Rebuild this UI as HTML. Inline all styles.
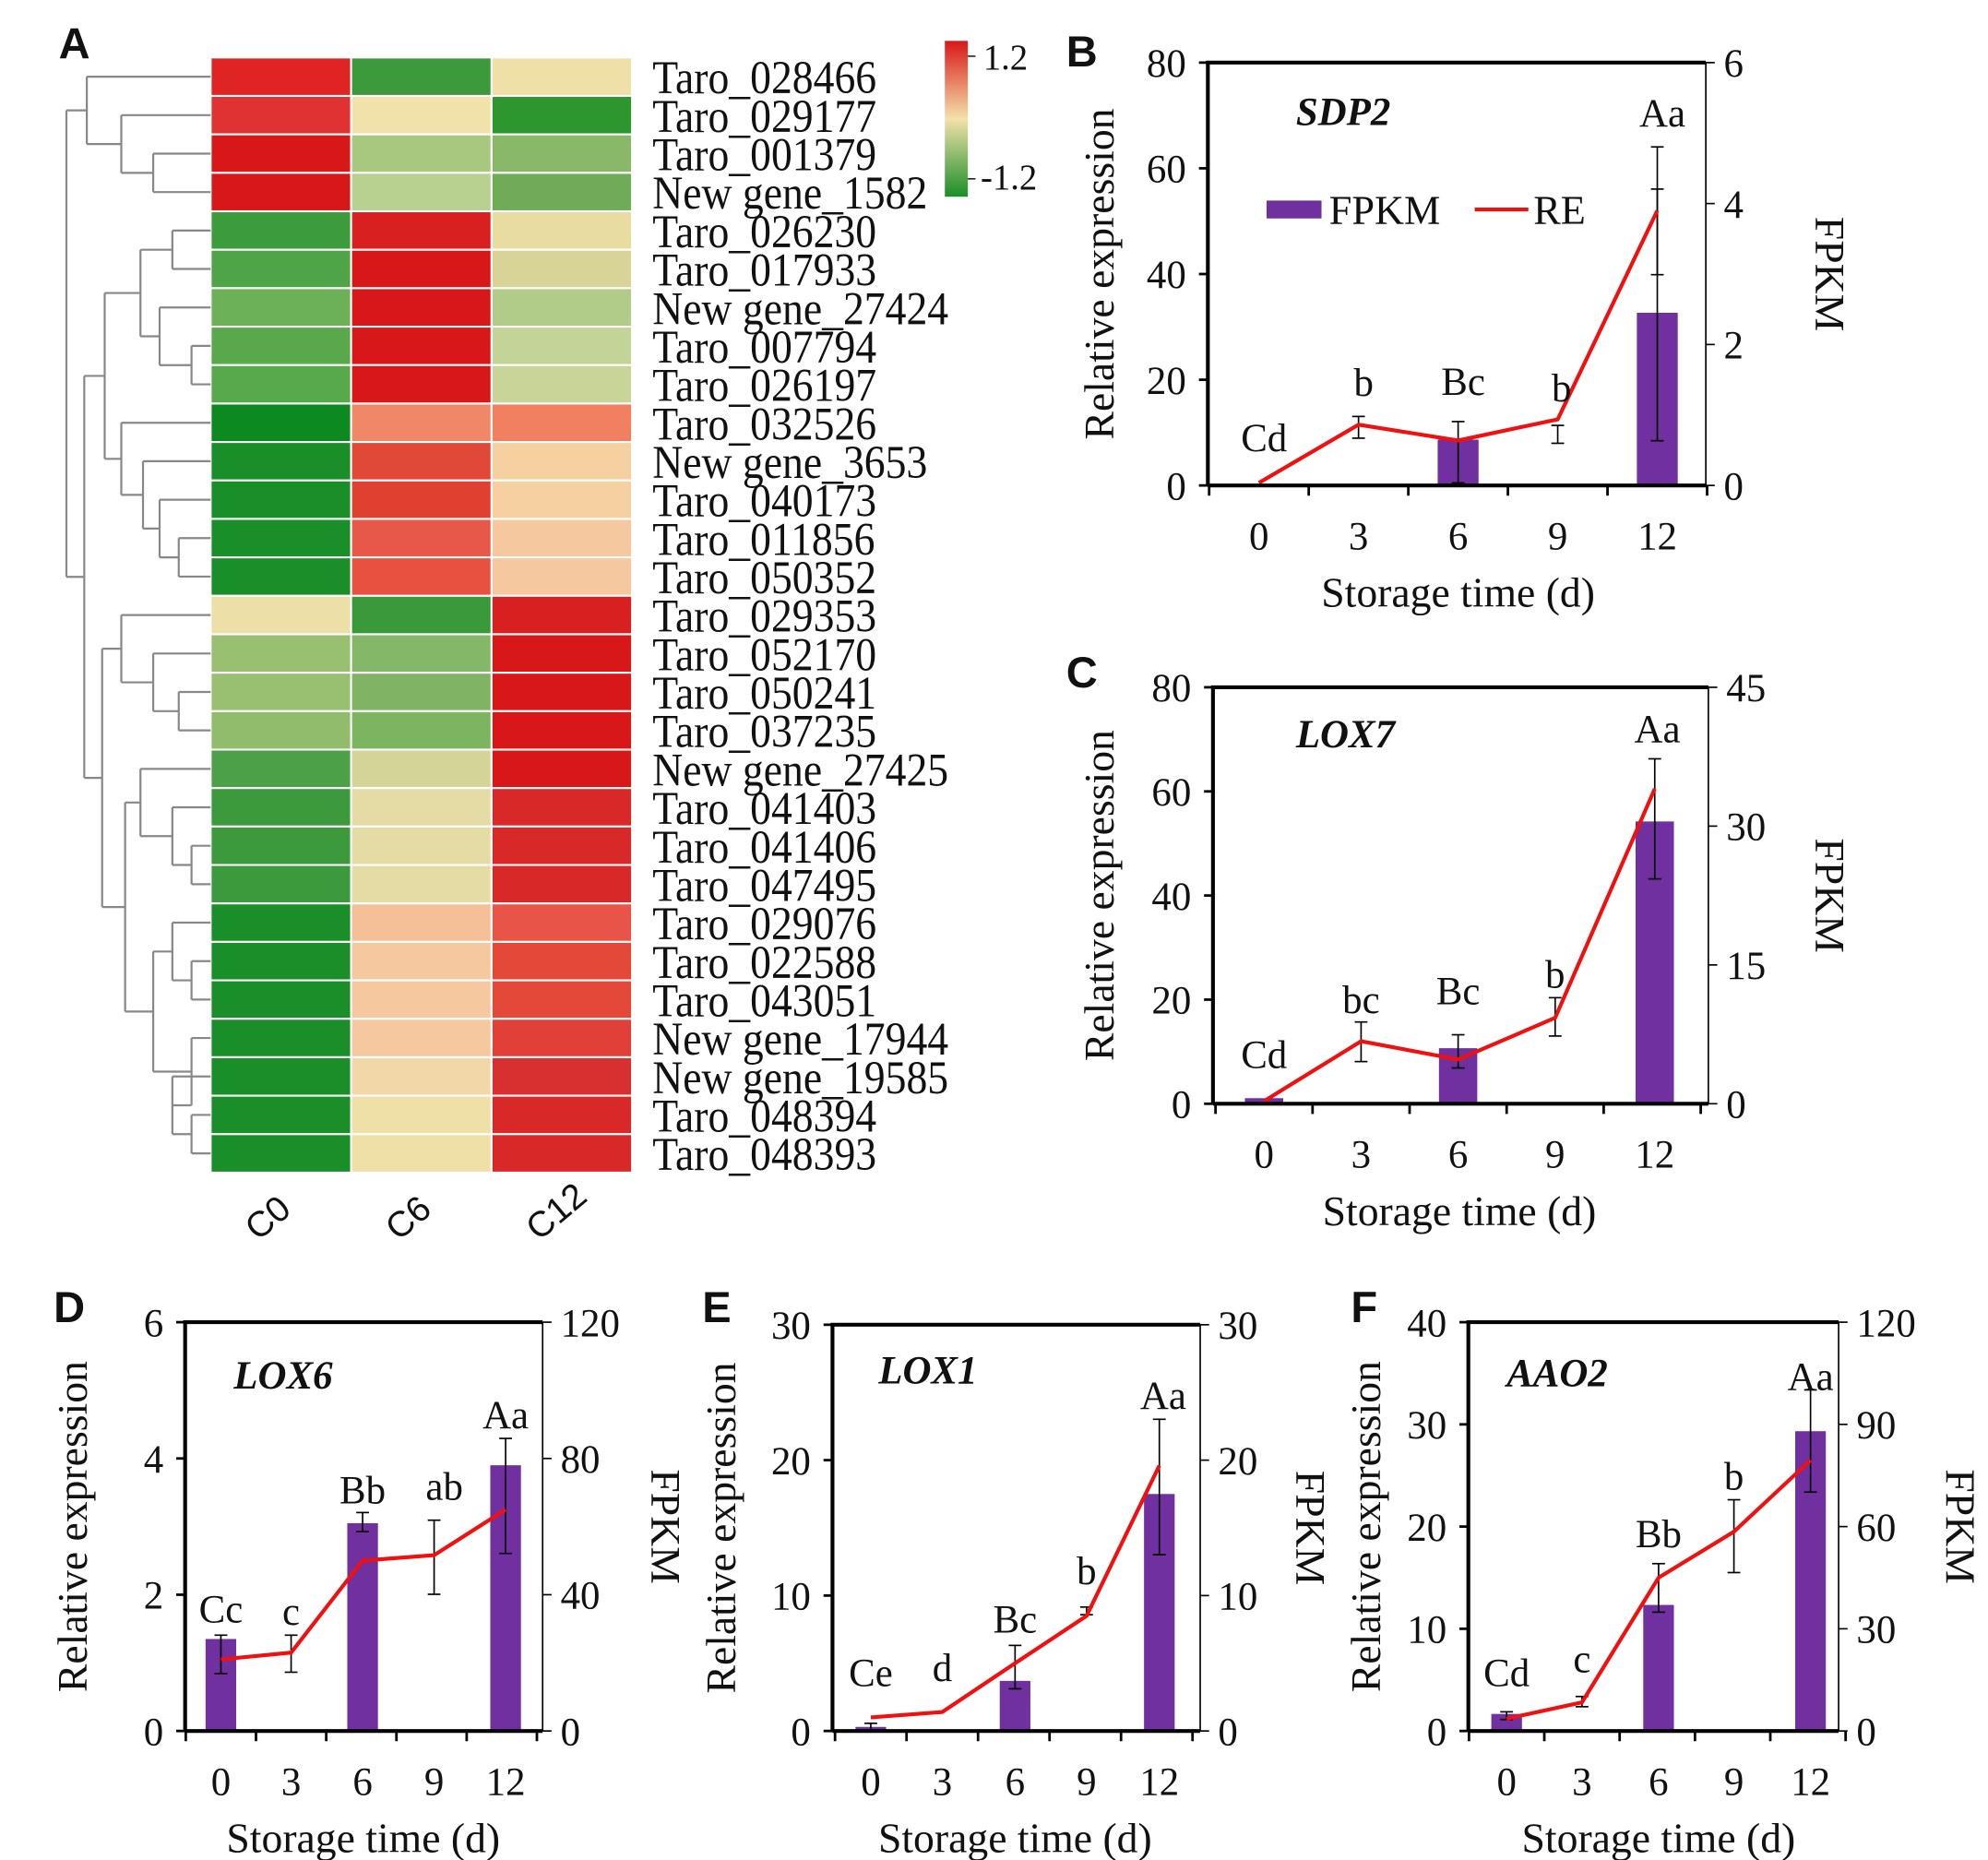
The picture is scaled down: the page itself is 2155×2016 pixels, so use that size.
<!DOCTYPE html>
<html><head><meta charset="utf-8"><style>
html,body{margin:0;padding:0;background:#fff}
svg{display:block}
text{font-family:"Liberation Serif",serif;fill:#111}
.pl{font-family:"Liberation Sans",sans-serif;font-weight:bold;font-size:34px}
</style></head><body>
<svg id="s" width="2155" height="2016" viewBox="0 0 1557 1456" preserveAspectRatio="none" xmlns="http://www.w3.org/2000/svg"></svg>
<script>
(function(){
const S=document.getElementById('s');let h='';
const rows=[
["Taro_028466","#e02424","#3c9a3c","#efe0a8"],
["Taro_029177","#e03232","#f0e2aa","#2e962e"],
["Taro_001379","#d81818","#a8c880","#88b868"],
["New gene_1582","#d81818","#b8d090","#70ac58"],
["Taro_026230","#3c9c3c","#d82020","#e8dca0"],
["Taro_017933","#50a448","#d81818","#d8d498"],
["New gene_27424","#6cb058","#d81818","#b0cc88"],
["Taro_007794","#5aa84c","#d81818","#c4d498"],
["Taro_026197","#58a84c","#d81818","#c8d498"],
["Taro_032526","#0c8a20","#f08868","#f08060"],
["New gene_3653","#1a8e28","#e04838","#f5d0a0"],
["Taro_040173","#1a8e28","#e04030","#f5d0a0"],
["Taro_011856","#1a8e28","#e85848","#f5c8a0"],
["Taro_050352","#1a8e28","#e85040","#f5c8a0"],
["Taro_029353","#ece0a8","#3a9a3a","#d82020"],
["Taro_052170","#98c070","#84b868","#d81818"],
["Taro_050241","#98c070","#80b464","#d81818"],
["Taro_037235","#90bc6c","#7cb460","#d81818"],
["New gene_27425","#4ca048","#d4d498","#d81818"],
["Taro_041403","#3c9a3c","#e4dca4","#d82828"],
["Taro_041406","#3c9a3c","#e4dca4","#d82828"],
["Taro_047495","#3c9a3c","#e4dca4","#d82828"],
["Taro_029076","#1a8e28","#f5c098","#e85448"],
["Taro_022588","#1a8e28","#f5c8a0","#e44838"],
["Taro_043051","#1a8e28","#f5c8a0","#e44838"],
["New gene_17944","#1a8e28","#f5c8a0","#e04038"],
["New gene_19585","#1a8e28","#f2d8a8","#d83030"],
["Taro_048394","#1a8e28","#efe0a8","#d82828"],
["Taro_048393","#1a8e28","#efe0a8","#d82828"]];
const rh=30.1,T0=45;
rows.forEach((r,i)=>{const y=T0+i*rh;
for(let c=0;c<3;c++)h+=`<rect x="${165+c*110}" y="${y}" width="110" height="${rh}" fill="${r[c+1]}" stroke="#fff" stroke-width="1.5"/>`;
h+=`<text transform="translate(511,${y+rh-2}) scale(1,1.12)" font-size="33">${r[0]}</text>`;});
const yc=i=>T0+i*rh+rh/2;
const G='stroke="#888" stroke-width="1.6" fill="none"';
function L(a,b,c,d){h+=`<line x1="${a}" y1="${b}" x2="${c}" y2="${d}" ${G}/>`;}
function node(x,y1,x1,y2,x2){L(x,y1,x1,y1);L(x,y2,x2,y2);L(x,y1,x,y2);}
node(120,yc(2),165,yc(3),165);node(95,yc(1),165,(yc(2)+yc(3))/2,120);node(68,yc(0),165,(yc(1)+(yc(2)+yc(3))/2)/2,95);
node(150,yc(7),165,yc(8),165);node(125,yc(6),165,(yc(7)+yc(8))/2,150);node(135,yc(4),165,yc(5),165);node(110,(yc(4)+yc(5))/2,135,(yc(6)+(yc(7)+yc(8))/2)/2,125);
node(140,yc(12),165,yc(13),165);node(125,yc(11),165,(yc(12)+yc(13))/2,140);node(112,yc(10),165,(yc(11)+(yc(12)+yc(13))/2)/2,125);node(95,yc(9),165,(yc(10)+(yc(11)+(yc(12)+yc(13))/2)/2)/2,112);
const c2=((yc(4)+yc(5))/2+(yc(6)+(yc(7)+yc(8))/2)/2)/2, c3=(yc(9)+(yc(10)+(yc(11)+(yc(12)+yc(13))/2)/2)/2)/2;
node(82,c2,110,c3,95);
node(140,yc(16),165,yc(17),165);node(120,yc(15),165,(yc(16)+yc(17))/2,140);node(95,yc(14),165,(yc(15)+(yc(16)+yc(17))/2)/2,120);
node(150,yc(20),165,yc(21),165);node(135,yc(19),165,(yc(20)+yc(21))/2,150);node(110,yc(18),165,(yc(19)+(yc(20)+yc(21))/2)/2,135);
node(150,yc(23),165,yc(24),165);node(135,yc(22),165,(yc(23)+yc(24))/2,150);node(150,yc(27),165,yc(28),165);node(135,yc(26),165,(yc(27)+yc(28))/2,150);node(150,yc(25),165,(yc(26)+(yc(27)+yc(28))/2)/2,135);
node(120,(yc(22)+(yc(23)+yc(24))/2)/2,135,(yc(25)+(yc(26)+(yc(27)+yc(28))/2)/2)/2,150);
const c5=(yc(18)+(yc(19)+(yc(20)+yc(21))/2)/2)/2, c6=((yc(22)+(yc(23)+yc(24))/2)/2+(yc(25)+(yc(26)+(yc(27)+yc(28))/2)/2)/2)/2;
node(98,c5,110,c6,120);
const c4=(yc(14)+(yc(15)+(yc(16)+yc(17))/2)/2)/2;const c56=(c5+c6)/2;
node(80,c4,95,c56,98);
const cA=(c2+c3)/2,cB=(c4+c56)/2;node(66,cA,82,cB,80);
const c1=(yc(0)+(yc(1)+(yc(2)+yc(3))/2)/2)/2;node(52,c1,68,(cA+cB)/2,66);
[["C0",220],["C6",330],["C12",440]].forEach(([t,x])=>h+=`<text transform="translate(${x-18},972) rotate(-40)" font-size="28" style="font-family:'Liberation Sans',sans-serif">${t}</text>`);
h+=`<defs><linearGradient id="cb" x1="0" y1="0" x2="0" y2="1"><stop offset="0" stop-color="#d81818"/><stop offset="0.5" stop-color="#f2e2aa"/><stop offset="1" stop-color="#1a8e28"/></linearGradient></defs>`;
h+=`<rect x="740" y="32" width="18" height="122" fill="url(#cb)"/><line x1="758" y1="44" x2="764" y2="44" stroke="#000"/><line x1="758" y1="140" x2="764" y2="140" stroke="#000"/>`;
h+=`<text x="770" y="54" font-size="28">1.2</text><text x="768" y="148" font-size="28">-1.2</text>`;
h+=`<text class="pl" x="46" y="46">A</text>`;
function chart(o){const{x0,x1,y0,y1,lmax,lt,rmax,rt,xs,bars,line,letters,gene,title,err}=o;
const ly=v=>y1-(v/lmax)*(y1-y0),ry=v=>y1-(v/rmax)*(y1-y0);
const bw=o.bw||30;
bars.forEach(([i,v])=>{if(v>0)h+=`<rect x="${xs[i]-bw/2}" y="${ry(v)}" width="${bw}" height="${y1-ry(v)}" fill="#7030a0"/>`;});
(err||[]).forEach(([x,a,b])=>{h+=`<line x1="${x}" y1="${a}" x2="${x}" y2="${b}" stroke="#000" stroke-width="1.2"/><line x1="${x-5}" y1="${a}" x2="${x+5}" y2="${a}" stroke="#000" stroke-width="1.2"/><line x1="${x-5}" y1="${b}" x2="${x+5}" y2="${b}" stroke="#000" stroke-width="1.2"/>`;});
h+=`<polyline points="${line.map((v,i)=>xs[i]+','+ly(v)).join(' ')}" fill="none" stroke="#f01010" stroke-width="3"/>`;
h+=`<path d="M${x0},${y1}V${y0}H${x1}" fill="none" stroke="#000" stroke-width="3"/><line x1="${x1}" y1="${y0}" x2="${x1}" y2="${y1}" stroke="#000" stroke-width="1.2"/><line x1="${x0}" y1="${y1}" x2="${x1}" y2="${y1}" stroke="#000" stroke-width="3"/>`;
lt.forEach(v=>{const y=ly(v);h+=`<line x1="${x0-7}" y1="${y}" x2="${x0}" y2="${y}" stroke="#000" stroke-width="2"/><text x="${x0-17}" y="${y+11}" font-size="31" text-anchor="end">${v}</text>`;});
rt.forEach(v=>{const y=ry(v);h+=`<line x1="${x1}" y1="${y}" x2="${x1+7}" y2="${y}" stroke="#000" stroke-width="1.2"/><text x="${x1+14}" y="${y+11}" font-size="31">${v}</text>`;});
const st=(xs[1]-xs[0]);for(let k=0;k<=5;k++){const x=xs[0]-st/2+k*st;h+=`<line x1="${x}" y1="${y1}" x2="${x}" y2="${y1+8}" stroke="#000" stroke-width="2"/>`;}
["0","3","6","9","12"].forEach((t,i)=>h+=`<text x="${xs[i]}" y="${y1+50}" font-size="31" text-anchor="middle">${t}</text>`);
h+=`<text x="${(xs[0]+xs[4])/2}" y="${y1+95}" font-size="33" text-anchor="middle">Storage time (d)</text>`;
h+=`<text transform="translate(${o.ylx},${(y0+y1)/2}) rotate(-90)" font-size="33" text-anchor="middle">Relative expression</text>`;
h+=`<text transform="translate(${o.yrx},${(y0+y1)/2}) rotate(90)" font-size="33" text-anchor="middle">FPKM</text>`;
h+=`<text x="${o.gx}" y="${o.gy}" font-size="31" font-weight="bold" font-style="italic">${gene}</text>`;
letters.forEach(([t,x,y])=>h+=`<text x="${x}" y="${y}" font-size="31" text-anchor="middle">${t}</text>`);
h+=`<text class="pl" x="${o.px}" y="${o.py}">${title}</text>`;}
chart({x0:946,x1:1336,y0:49,y1:380,lmax:80,lt:[0,20,40,60,80],rmax:6,rt:[0,2,4,6],xs:[986,1064,1142,1220,1298],bars:[[2,0.65],[4,2.45]],line:[0.5,11.5,8.5,12.5,52],
letters:[["Cd",990,353],["b",1068,310],["Bc",1146,309],["b",1223,314],["Aa",1302,99]],gene:"SDP2",gx:1015,gy:98,title:"B",px:835,py:52,ylx:872,yrx:1422,bw:32,
err:[[1064,326,343],[1142,330,378],[1220,333,347],[1298,115,345],[1298,148,215]]});
h+=`<rect x="992" y="157" width="43" height="14" fill="#7030a0"/><text x="1041" y="175" font-size="32">FPKM</text><line x1="1155" y1="164" x2="1197" y2="164" stroke="#f01010" stroke-width="3"/><text x="1201" y="175" font-size="32">RE</text>`;
chart({x0:950,x1:1338,y0:538,y1:864,lmax:80,lt:[0,20,40,60,80],rmax:45,rt:[0,15,30,45],xs:[990,1066,1142,1218,1296],bars:[[0,0.6],[2,6],[4,30.5]],line:[0.5,12,8.5,16.5,60.5],
letters:[["Cd",990,836],["bc",1066,793],["Bc",1142,786],["b",1218,773],["Aa",1298,581]],gene:"LOX7",gx:1015,gy:585,title:"C",px:835,py:538,ylx:872,yrx:1422,bw:30,
err:[[1066,800,831],[1142,810,836],[1218,781,811],[1296,594,688]]});
chart({x0:145,x1:425,y0:1035,y1:1355,lmax:6,lt:[0,2,4,6],rmax:120,rt:[0,40,80,120],xs:[173,228,284,340,396],bars:[[0,27],[2,61],[4,78]],line:[1.05,1.15,2.5,2.58,3.25],
letters:[["Cc",173,1270],["c",228,1272],["Bb",284,1177],["ab",348,1174],["Aa",396,1118]],gene:"LOX6",gx:183,gy:1087,title:"D",px:42,py:1035,ylx:68,yrx:510,bw:24,
err:[[173,1280,1310],[228,1280,1309],[284,1184,1199],[340,1190,1248],[396,1126,1216]]});
chart({x0:652,x1:940,y0:1037,y1:1355,lmax:30,lt:[0,10,20,30],rmax:30,rt:[0,10,20,30],xs:[682,738,795,851,908],bars:[[0,0.3],[2,3.7],[4,17.5]],line:[1,1.4,5,8.5,19.6],
letters:[["Ce",682,1320],["d",738,1316],["Bc",795,1278],["b",851,1240],["Aa",911,1103]],gene:"LOX1",gx:688,gy:1083,title:"E",px:550,py:1035,ylx:576,yrx:1015,bw:24,
err:[[682,1349,1355],[795,1288,1322],[851,1258,1264],[908,1111,1217]]});
chart({x0:1150,x1:1440,y0:1035,y1:1355,lmax:40,lt:[0,10,20,30,40],rmax:120,rt:[0,30,60,90,120],xs:[1180,1239,1299,1358,1418],bars:[[0,5],[2,37],[4,88]],line:[1.2,2.8,15,19.5,26.5],
letters:[["Cd",1180,1320],["c",1239,1309],["Bb",1299,1211],["b",1358,1166],["Aa",1418,1088]],gene:"AAO2",gx:1180,gy:1085,title:"F",px:1058,py:1035,ylx:1081,yrx:1524,bw:24,
err:[[1180,1340,1346],[1239,1328,1336],[1299,1224,1262],[1358,1174,1231],[1418,1088,1168]]});
S.innerHTML=h;
})();
</script>
</body></html>
